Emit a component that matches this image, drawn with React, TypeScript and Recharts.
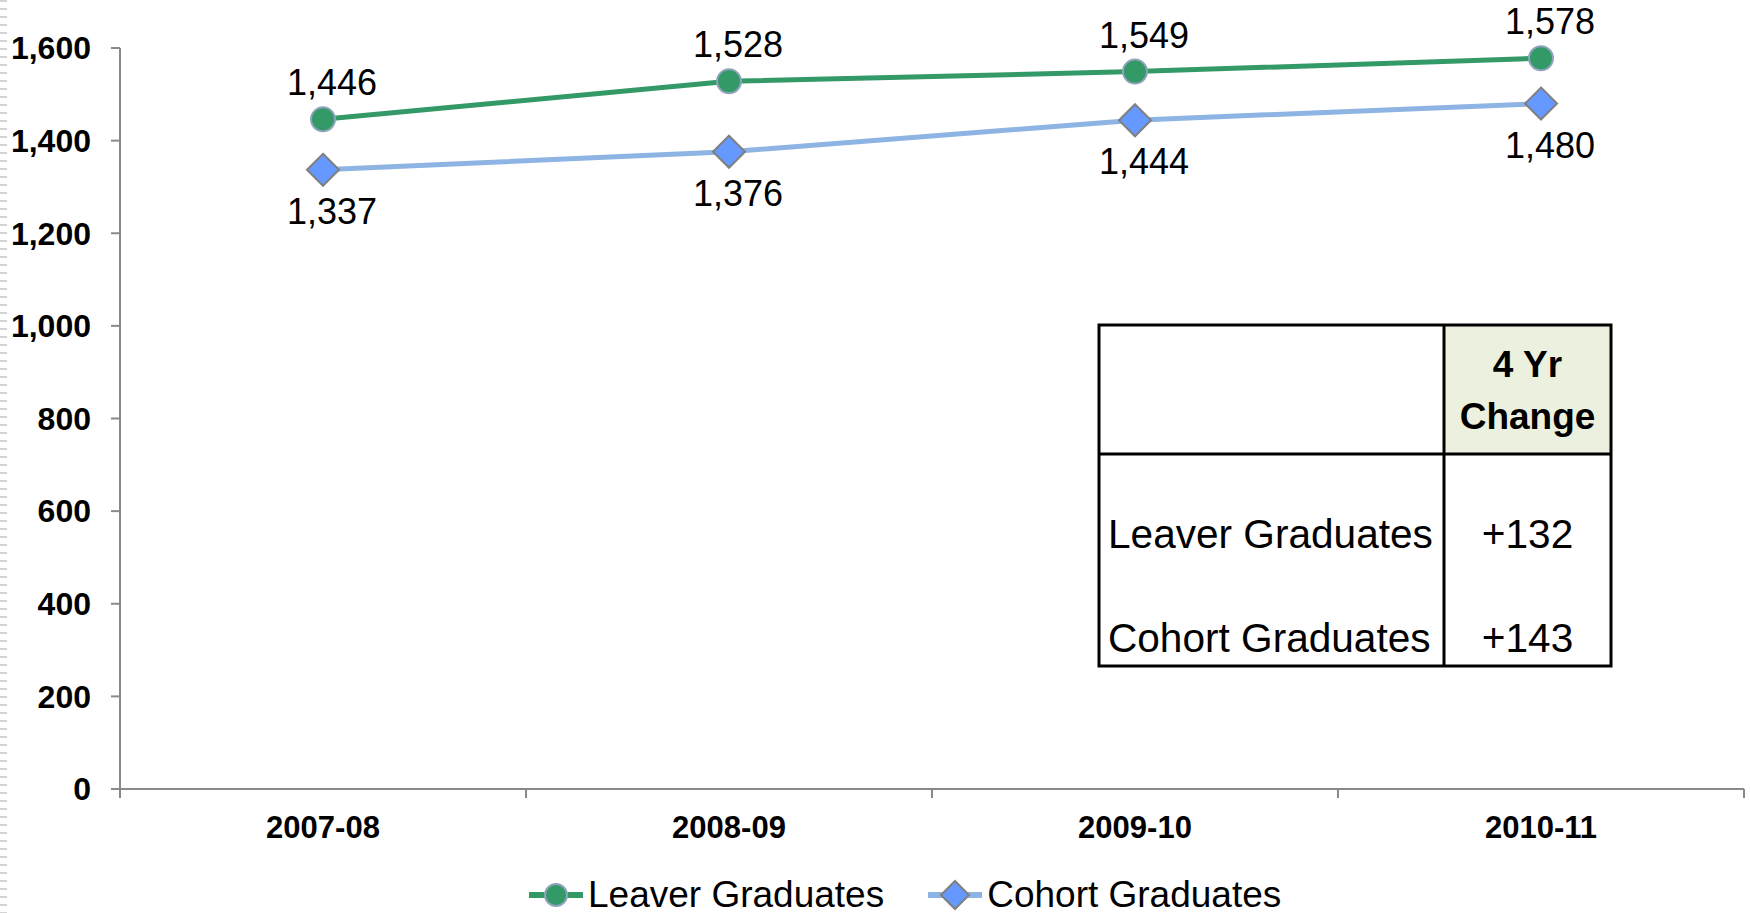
import React from 'react';
import { LineChart, Line, XAxis, YAxis, Legend, LabelList } from 'recharts';

const years = ['2007-08', '2008-09', '2009-10', '2010-11'];
const leaverGraduates = [1446, 1528, 1549, 1578];
const cohortGraduates = [1337, 1376, 1444, 1480];
const yTicks = [0, 200, 400, 600, 800, 1000, 1200, 1400, 1600];
const boundaryTicks = [0, 1, 2, 3, 4];
const seriesNames = ['Leaver Graduates', 'Cohort Graduates'];
const changeHeader = ['4 Yr', 'Change'];
const changeValues = ['+132', '+143'];

const data = years.map((y, i) => ({ year: y, idx: i, leaver: leaverGraduates[i], cohort: cohortGraduates[i] }));

const FONT = '"Liberation Sans", Arial, sans-serif';
const GREEN = '#339966';
const GREEN_DOT_STROKE = '#8FA3BC';
const BLUE_LINE = '#8DB4E2';
const BLUE_DOT = '#6699FF';
const BLUE_DOT_STROKE = '#7F7F7F';
const AXIS = '#898989';

const fmt = (v: number) => v.toLocaleString('en-US');

const CircleDot = (props: any) => {
  const { cx, cy, index } = props;
  if (cx == null || cy == null) return null;
  return <circle key={`c${index}`} cx={cx} cy={cy} r={12} fill={GREEN} stroke={GREEN_DOT_STROKE} strokeWidth={2} />;
};

const DiamondDot = (props: any) => {
  const { cx, cy, index } = props;
  if (cx == null || cy == null) return null;
  const s = 16;
  return (
    <polygon
      key={`d${index}`}
      points={`${cx},${cy - s} ${cx + s},${cy} ${cx},${cy + s} ${cx - s},${cy}`}
      fill={BLUE_DOT}
      stroke={BLUE_DOT_STROKE}
      strokeWidth={2}
    />
  );
};

const makeLabel = (dy: number) => (props: any) => {
  const { x, y, value, index } = props;
  return (
    <text key={`l${dy}${index}`} x={x + 9} y={y + dy} textAnchor="middle" fontSize={36} fontFamily={FONT} fill="#000">
      {fmt(value)}
    </text>
  );
};

const XTick = (props: any) => {
  const { x, y, payload } = props;
  return (
    <text x={x} y={y + 37} dominantBaseline="central" textAnchor="middle" fontSize={31} fontWeight="bold" fontFamily={FONT} fill="#000">
      {payload.value}
    </text>
  );
};

const EmptyTick = () => <g />;

const LegendIcon = ({ kind }: { kind: 'circle' | 'diamond' }) => (
  <svg width={54} height={34} style={{ display: 'block' }}>
    <line x1={0} y1={17} x2={54} y2={17} stroke={kind === 'circle' ? GREEN : BLUE_LINE} strokeWidth={6} strokeLinecap="round" />
    {kind === 'circle' ? (
      <circle cx={27} cy={17} r={11} fill={GREEN} stroke={GREEN_DOT_STROKE} strokeWidth={2} />
    ) : (
      <polygon points="27,3 41,17 27,31 13,17" fill={BLUE_DOT} stroke={BLUE_DOT_STROKE} strokeWidth={2} />
    )}
  </svg>
);

const LegendContent = () => (
  <div
    style={{
      height: 50,
      display: 'flex',
      alignItems: 'flex-end',
      paddingLeft: 529,
      fontFamily: FONT,
      fontSize: 37,
      color: '#000',
      boxSizing: 'border-box',
    }}
  >
    <div style={{ display: 'flex', alignItems: 'center', height: 37, lineHeight: '37px' }}>
      <LegendIcon kind="circle" />
      <span style={{ marginLeft: 5 }}>{seriesNames[0]}</span>
    </div>
    <div style={{ display: 'flex', alignItems: 'center', height: 37, lineHeight: '37px', marginLeft: 44 }}>
      <LegendIcon kind="diamond" />
      <span style={{ marginLeft: 5 }}>{seriesNames[1]}</span>
    </div>
  </div>
);

const ChangeTable = () => {
  const L = 1099, R = 1611, T = 325, HB = 454, B = 666, D = 1444;
  const cx = (D + R) / 2;
  return (
    <svg width={1750} height={913} style={{ position: 'absolute', left: 0, top: 0, pointerEvents: 'none' }}>
      <rect x={D} y={T} width={R - D} height={HB - T} fill="#EBF1DE" />
      <rect x={L} y={T} width={R - L} height={B - T} fill="none" stroke="#000" strokeWidth={3} />
      <line x1={L} y1={HB} x2={R} y2={HB} stroke="#000" strokeWidth={3} />
      <line x1={D} y1={T} x2={D} y2={B} stroke="#000" strokeWidth={3} />
      <text x={cx} y={364} textAnchor="middle" dominantBaseline="central" fontSize={37} fontWeight="bold" fontFamily={FONT}>{changeHeader[0]}</text>
      <text x={cx} y={416} textAnchor="middle" dominantBaseline="central" fontSize={37} fontWeight="bold" fontFamily={FONT}>{changeHeader[1]}</text>
      <text x={1108} y={534} dominantBaseline="central" fontSize={40.6} fontFamily={FONT}>{seriesNames[0]}</text>
      <text x={1108} y={638} dominantBaseline="central" fontSize={40.6} fontFamily={FONT}>{seriesNames[1]}</text>
      <text x={cx} y={534} textAnchor="middle" dominantBaseline="central" fontSize={40.6} fontFamily={FONT}>{changeValues[0]}</text>
      <text x={cx} y={638} textAnchor="middle" dominantBaseline="central" fontSize={40.6} fontFamily={FONT}>{changeValues[1]}</text>
    </svg>
  );
};

export default function App() {
  return (
    <div style={{ position: 'absolute', left: 0, top: 0, width: 1750, height: 913, background: '#fff', overflow: 'hidden' }}>
      <div
        style={{
          position: 'absolute',
          left: 0,
          top: 0,
          width: 7,
          height: 913,
          background: 'repeating-linear-gradient(to bottom, #d4d4d4 0px, #d4d4d4 2px, transparent 2px, transparent 8px)',
        }}
      />
      <LineChart width={1750} height={913} data={data} margin={{ top: 48, right: 6, bottom: 0, left: 0 }}>
        <XAxis
          xAxisId={0}
          dataKey="idx"
          type="number"
          domain={[0, 4]}
          allowDataOverflow
          ticks={boundaryTicks}
          tick={<EmptyTick />}
          tickSize={9}
          height={1}
          interval={0}
          axisLine={{ stroke: AXIS, strokeWidth: 2 }}
          tickLine={{ stroke: AXIS, strokeWidth: 2 }}
        />
        <XAxis
          xAxisId="cat"
          dataKey="year"
          type="category"
          scale="band"
          height={73}
          axisLine={false}
          tickLine={false}
          tickSize={0}
          tickMargin={0}
          tick={<XTick />}
          interval={0}
        />
        <YAxis
          width={120}
          domain={[0, 1600]}
          ticks={yTicks}
          tickFormatter={fmt}
          tickSize={9}
          tickMargin={20}
          axisLine={{ stroke: AXIS, strokeWidth: 2 }}
          tickLine={{ stroke: AXIS, strokeWidth: 2 }}
          tick={{ fontSize: 32, fontWeight: 'bold', fill: '#000', fontFamily: FONT }}
        />
        <Legend verticalAlign="bottom" content={<LegendContent />} />
        <Line
          xAxisId="cat"
          dataKey="leaver"
          name={seriesNames[0]}
          stroke={GREEN}
          strokeWidth={5}
          dot={<CircleDot />}
          activeDot={false}
          isAnimationActive={false}
        >
          <LabelList dataKey="leaver" content={makeLabel(-24)} />
        </Line>
        <Line
          xAxisId="cat"
          dataKey="cohort"
          name={seriesNames[1]}
          stroke={BLUE_LINE}
          strokeWidth={5}
          dot={<DiamondDot />}
          activeDot={false}
          isAnimationActive={false}
        >
          <LabelList dataKey="cohort" content={makeLabel(54)} />
        </Line>
      </LineChart>
      <ChangeTable />
    </div>
  );
}
